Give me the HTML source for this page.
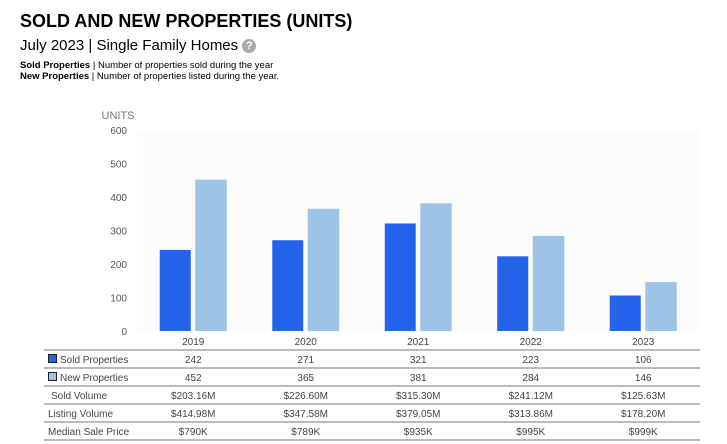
<!DOCTYPE html>
<html><head><meta charset="utf-8"><style>
body{margin:0;width:727px;height:444px;background:#fff;font-family:"Liberation Sans",Arial,sans-serif;position:relative;overflow:hidden}
.t{position:absolute;white-space:nowrap}
</style></head><body>
<div class="t" style="left:20px;top:11px;font-size:18px;font-weight:bold;color:#000">SOLD AND NEW PROPERTIES (UNITS)</div>
<div class="t" style="left:20px;top:37px;font-size:15px;color:#000">July 2023 | Single Family Homes <span style="display:inline-block;width:14px;height:14px;border-radius:7px;background:#aaa;color:#fff;font-size:11px;font-weight:bold;text-align:center;line-height:14px;vertical-align:1px">?</span></div>
<div class="t" style="left:20px;top:60px;font-size:9.5px"><b>Sold Properties</b> | Number of properties sold during the year</div>
<div class="t" style="left:20px;top:71px;font-size:9.5px"><b>New Properties</b> | Number of properties listed during the year.</div>
<svg id="c" width="727" height="444" style="position:absolute;left:0;top:0" font-family="Liberation Sans, Arial, sans-serif"></svg>
<script>
const years=["2019","2020","2021","2022","2023"];
const sold=[242,271,321,223,106];
const listed=[452,365,381,284,146];
const soldVol=["$203.16M","$226.60M","$315.30M","$241.12M","$125.63M"];
const listVol=["$414.98M","$347.58M","$379.05M","$313.86M","$178.20M"];
const median=["$790K","$789K","$935K","$995K","$999K"];
const yTicks=[0,100,200,300,400,500,600];
const svg=document.getElementById('c');
const NS='http://www.w3.org/2000/svg';
function el(t,a,txt){const e=document.createElementNS(NS,t);for(const k in a)e.setAttribute(k,a[k]);if(txt!==undefined)e.textContent=txt;svg.appendChild(e);return e;}
const y0=331,yTop=130,yMax=600;
const y=v=>y0-(v/yMax)*(y0-yTop);
const x0=137,step=112.5;
const xc=i=>x0+56.25+i*step;
let bg=el('rect',{x:x0,y:yTop,width:step*5,height:y0-yTop,fill:'#fcfcfc'});


let ut=el('text',{x:118,y:119,'font-size':11,fill:'#777','text-anchor':'middle'},'UNITS');


yTicks.forEach(v=>{let t=el('text',{x:127,y:y(v)+4,'font-size':10,fill:'#555','text-anchor':'end'},String(v));

});
years.forEach((yr,i)=>{
let b=el('rect',{x:xc(i)-33.5,y:y(sold[i]),width:31,height:y0-y(sold[i]),fill:'#2563eb'});


let b2=el('rect',{x:xc(i)+2,y:y(listed[i]),width:31.5,height:y0-y(listed[i]),fill:'#9dc3e6'});


let t=el('text',{x:xc(i),y:345,'font-size':10,fill:'#444','text-anchor':'middle'},yr);


});
const rows=[["Sold Properties",sold],["New Properties",listed],["Sold Volume",soldVol],["Listing Volume",listVol],["Median Sale Price",median]];
const rowTop=350,rh=18;
el('line',{x1:44,x2:700,y1:rowTop,y2:rowTop,stroke:'#777','stroke-width':1});
rows.forEach((r,j)=>{
const ty=rowTop+rh*j+13;
let lx=48;
if(j<2){let sw=el('rect',{x:48.5,y:rowTop+rh*j+4.5,width:8,height:8,fill:j?'#9dc3e6':'#2563eb',stroke:'#222'});

lx=60;}
else if(j==2)lx=51;
let lb=el('text',{x:lx,y:ty,'font-size':10,fill:'#444'},r[0]);


r[1].forEach((v,i)=>{let c=el('text',{x:xc(i),y:ty,'font-size':10,fill:'#444','text-anchor':'middle'},String(v));

});
el('line',{x1:44,x2:700,y1:rowTop+rh*(j+1),y2:rowTop+rh*(j+1),stroke:'#777','stroke-width':1});
});
</script>
</body></html>
